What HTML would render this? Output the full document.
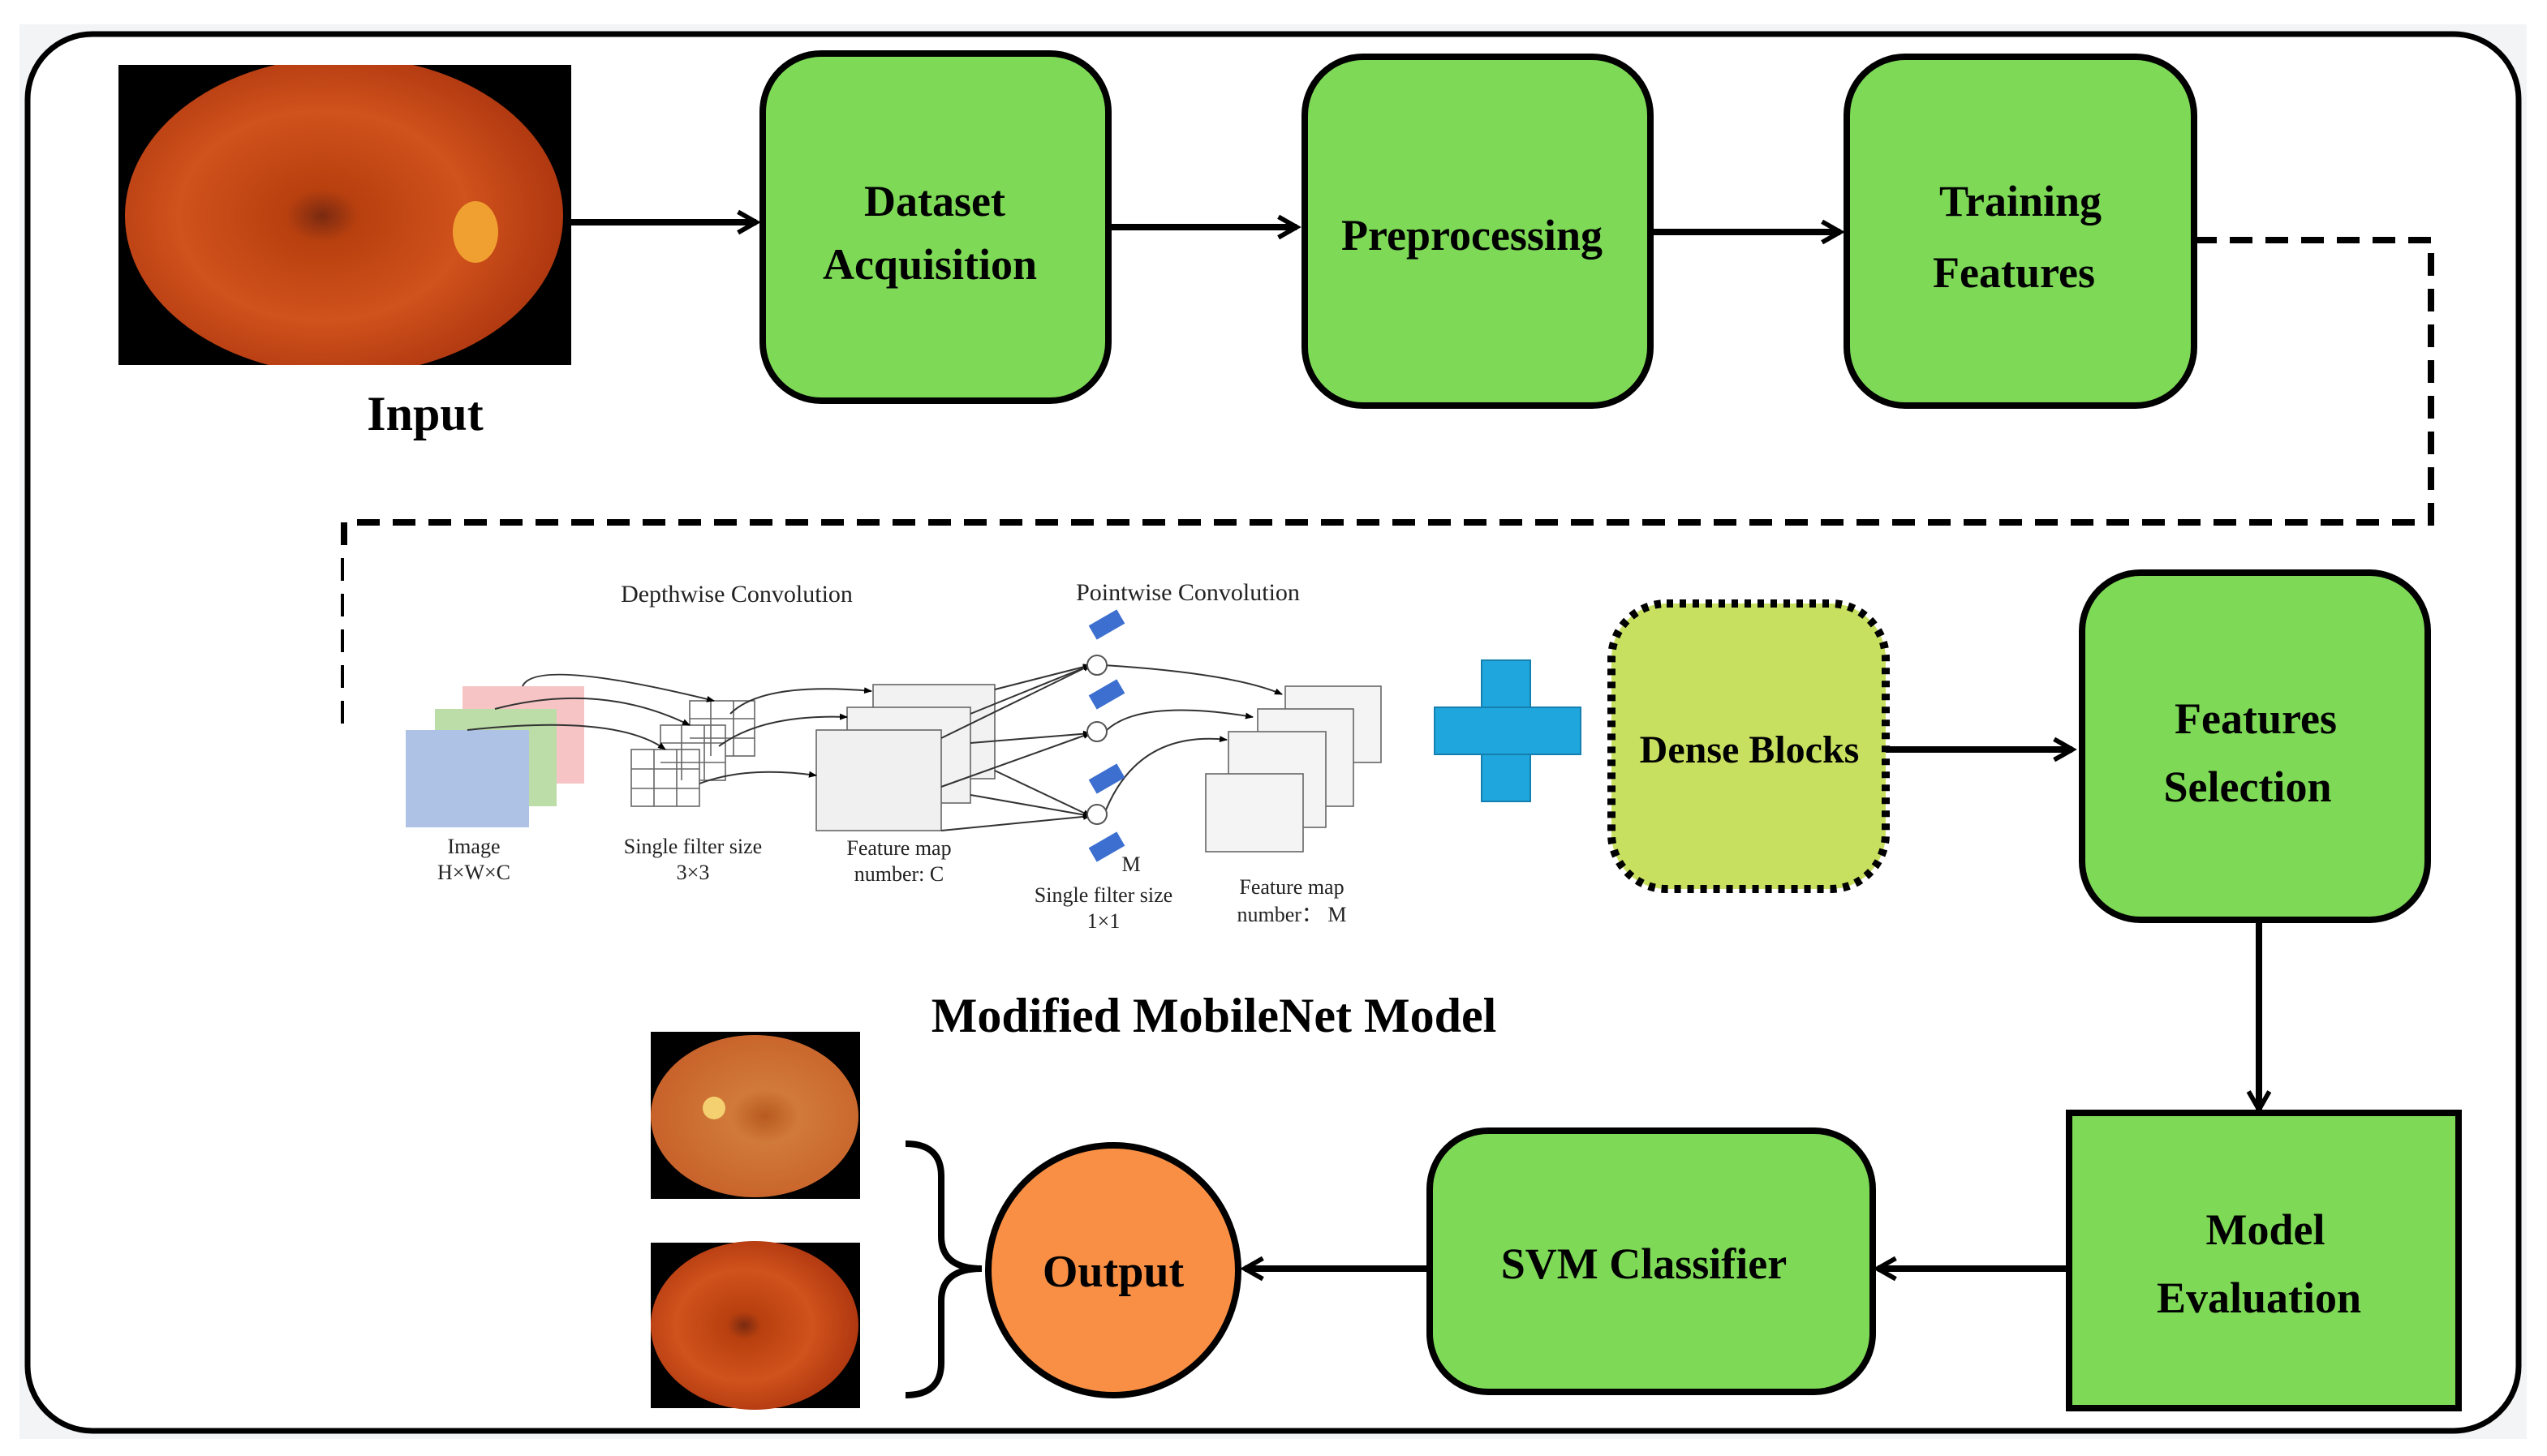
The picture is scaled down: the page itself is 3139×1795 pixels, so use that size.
<!DOCTYPE html>
<html><head><meta charset="utf-8"><style>
html,body{margin:0;padding:0;background:#fff;}
svg{display:block;}
text{font-family:"Liberation Serif",serif;}
</style></head><body>
<svg width="3139" height="1795" viewBox="0 0 1569.5 897.5" xmlns="http://www.w3.org/2000/svg">
<defs>
<marker id="ah" viewBox="0 0 10 10" refX="8" refY="5" markerWidth="4" markerHeight="4" orient="auto" markerUnits="strokeWidth">
<path d="M1,1 L8,5 L1,9" fill="none" stroke="#000" stroke-width="1.8"/>
</marker>
<marker id="sa" viewBox="0 0 10 10" refX="9" refY="5" markerWidth="5" markerHeight="5" orient="auto">
<path d="M0,1 L10,5 L0,9z" fill="#000"/>
</marker>
<radialGradient id="eye" cx="0.45" cy="0.5" r="0.55">
<stop offset="0" stop-color="#7a2a10"/><stop offset="0.15" stop-color="#b8400f"/><stop offset="0.6" stop-color="#d0521c"/><stop offset="1" stop-color="#b03810"/>
</radialGradient>
<radialGradient id="eye2" cx="0.55" cy="0.5" r="0.55">
<stop offset="0" stop-color="#b85a20"/><stop offset="0.3" stop-color="#d07a3a"/><stop offset="1" stop-color="#c8622a"/>
</radialGradient>
</defs>
<rect x="0" y="0" width="1569.5" height="897.5" fill="#fff"/>
<rect x="12" y="15" width="1545" height="872" fill="#f3f4f6"/>
<rect x="17" y="21" width="1535" height="861" rx="40" fill="#fff" stroke="#000" stroke-width="3.5"/>

<!-- input image -->
<rect x="73" y="40" width="279" height="185" fill="#000"/>
<ellipse cx="212" cy="133" rx="135" ry="98" fill="url(#eye)"/>
<rect x="73" y="225" width="279" height="10" fill="#fff"/>
<rect x="73" y="30" width="279" height="10" fill="#fff"/>
<ellipse cx="293" cy="143" rx="14" ry="19" fill="#f0a030"/>
<text x="262" y="265" font-size="30" font-weight="bold" text-anchor="middle">Input</text>

<g stroke="#000" stroke-width="4" fill="none" marker-end="url(#ah)">
<line x1="352" y1="137" x2="466" y2="137"/>
<line x1="683" y1="140" x2="799" y2="140"/>
<line x1="1017" y1="143" x2="1134" y2="143"/>
<line x1="1162" y1="462" x2="1277" y2="462"/>
<line x1="1392" y1="567" x2="1392" y2="684"/>
<line x1="1275" y1="782" x2="1157" y2="782"/>
<line x1="881" y1="782" x2="767" y2="782"/>
</g>

<g fill="#7ed957" stroke="#000" stroke-width="4">
<rect x="470" y="33" width="213" height="214" rx="36"/>
<rect x="804" y="35" width="213" height="215" rx="36"/>
<rect x="1138" y="35" width="214" height="215" rx="36"/>
<rect x="1283" y="353" width="213" height="214" rx="36"/>
<rect x="1275" y="686" width="240" height="182" rx="0"/>
<rect x="881" y="697" width="273" height="161" rx="36"/>
</g>
<g font-size="27" font-weight="bold" text-anchor="middle">
<text x="576" y="133">Dataset</text>
<text x="573" y="172">Acquisition</text>
<text x="907" y="154">Preprocessing</text>
<text x="1245" y="133">Training</text>
<text x="1241" y="177">Features</text>
<text x="1390" y="452">Features</text>
<text x="1385" y="494">Selection</text>
<text x="1396" y="767">Model</text>
<text x="1392" y="809">Evaluation</text>
<text x="1013" y="788">SVM Classifier</text>
</g>

<!-- dashed connector -->
<path d="M1352,148 H1498 V322 H212 V447" fill="none" stroke="#000" stroke-width="4" stroke-dasharray="14,8"/>

<!-- dense blocks -->
<rect x="993" y="372" width="169" height="176" rx="34" fill="#c8e060" stroke="#000" stroke-width="5" stroke-dasharray="4,4"/>
<text x="1078" y="470" font-size="24" font-weight="bold" text-anchor="middle">Dense Blocks</text>

<!-- plus -->
<g fill="#1fa6dc" stroke="#1580b0" stroke-width="1">
<rect x="913" y="407" width="30" height="87"/>
<rect x="884" y="436" width="90" height="29"/>
</g>

<!-- output -->
<circle cx="686" cy="783" r="77" fill="#f98f45" stroke="#000" stroke-width="4"/>
<text x="686" y="793" font-size="28" font-weight="bold" text-anchor="middle">Output</text>
<path d="M558,705 Q580,705 580,725 L580,762 Q580,782 605,782 Q580,782 580,802 L580,840 Q580,860 558,860" fill="none" stroke="#000" stroke-width="4"/>

<rect x="401" y="636" width="129" height="103" fill="#000"/>
<ellipse cx="465" cy="688" rx="64" ry="50" fill="url(#eye2)"/>
<circle cx="440" cy="683" r="7" fill="#f4d070"/>
<rect x="401" y="766" width="129" height="102" fill="#000"/>
<ellipse cx="465" cy="817" rx="64" ry="52" fill="url(#eye)"/>

<text x="748" y="636" font-size="30" font-weight="bold" text-anchor="middle">Modified MobileNet Model</text>

<!-- mobilenet figure -->
<rect x="212" y="337" width="668" height="258" fill="#fff"/>
<g font-size="15" text-anchor="middle" fill="#222">
<text x="454" y="371">Depthwise Convolution</text>
<text x="732" y="370">Pointwise Convolution</text>
</g>
<rect x="285" y="423" width="75" height="60" fill="#f6c4c4"/>
<rect x="268" y="437" width="75" height="60" fill="#bcdca8"/>
<rect x="250" y="450" width="76" height="60" fill="#aec2e6"/>
<g fill="#fff" stroke="#666" stroke-width="0.8">
<rect x="425" y="432" width="40" height="34"/>
<rect x="407" y="447" width="40" height="34"/>
<rect x="389" y="462" width="42" height="35"/>
<path d="M438,432V466M452,432V466M425,443H465M425,455H465M420,447V481M434,447V481M407,458H447M407,470H447M403,462V497M417,462V497M389,474H431M389,486H431" fill="none"/>
<rect x="538" y="422" width="75" height="58" fill="#f2f2f2"/>
<rect x="522" y="436" width="76" height="59" fill="#f2f2f2"/>
<rect x="503" y="450" width="77" height="62" fill="#f0f0f0"/>
<rect x="792" y="423" width="59" height="47" fill="#f4f4f4"/>
<rect x="775" y="437" width="59" height="60" fill="#f4f4f4"/>
<rect x="757" y="451" width="60" height="59" fill="#f4f4f4"/>
<rect x="743" y="477" width="60" height="48" fill="#f4f4f4"/>
</g>
<g stroke="#333" stroke-width="1" fill="none" marker-end="url(#sa)">
<path d="M322,423 Q330,405 440,432"/>
<path d="M305,437 Q370,420 425,447"/>
<path d="M288,450 Q380,440 410,462"/>
<path d="M450,440 Q470,420 537,426"/>
<path d="M443,460 Q470,440 522,442"/>
<path d="M431,483 Q460,472 503,478"/>
<path d="M580,455 L672,410"/><path d="M598,440 L672,410"/><path d="M613,425 L672,410"/>
<path d="M580,485 L672,452"/><path d="M598,458 L672,452"/>
<path d="M580,512 L672,503"/><path d="M598,490 L672,503"/><path d="M613,475 L672,503"/>
<path d="M680,410 Q760,415 790,428"/>
<path d="M680,452 Q700,430 772,442"/>
<path d="M680,503 Q700,450 756,456"/>
</g>
<g fill="#fff" stroke="#555" stroke-width="1">
<circle cx="676" cy="410" r="6"/><circle cx="676" cy="451" r="6"/><circle cx="676" cy="502" r="6"/>
</g>
<g fill="#3d6fd0">
<rect x="672" y="380" width="20" height="10" transform="rotate(-30 682 385)"/>
<rect x="672" y="423" width="20" height="10" transform="rotate(-30 682 428)"/>
<rect x="672" y="475" width="20" height="10" transform="rotate(-30 682 480)"/>
<rect x="672" y="517" width="20" height="10" transform="rotate(-30 682 522)"/>
</g>
<g font-size="13" text-anchor="middle" fill="#222">
<text x="292" y="526">Image</text><text x="292" y="542">H×W×C</text>
<text x="427" y="526">Single filter size</text><text x="427" y="542">3×3</text>
<text x="554" y="527">Feature map</text><text x="554" y="543">number: C</text>
<text x="697" y="537">M</text>
<text x="680" y="556">Single filter size</text><text x="680" y="572">1×1</text>
<text x="796" y="551">Feature map</text><text x="796" y="568">number： M</text>
</g>
</svg>
</body></html>
